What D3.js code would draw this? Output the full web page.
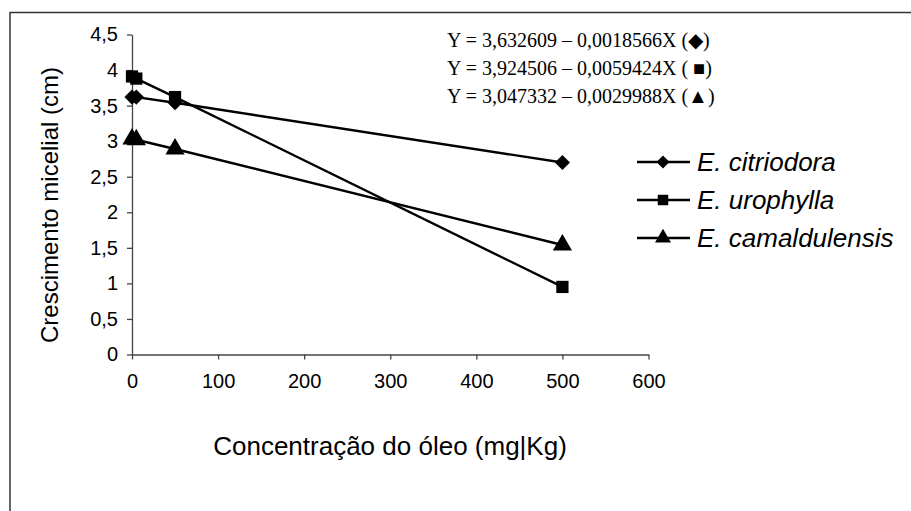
<!DOCTYPE html>
<html>
  <head>
    <meta charset="utf-8">
    <title>Crescimento micelial</title>
    <script src="https://cdn.jsdelivr.net/npm/d3@7"></script>
    <style>
      html, body { margin: 0; padding: 0; background: #fff; }
      svg text { font-family: "Liberation Sans", Arial, sans-serif; fill: #000; }
      .eq { font-family: "Liberation Serif", "Times New Roman", serif; }
    </style>
  </head>
  <body>
    <div id="chart"></div>
    <script>
      // concentrations (mg|Kg)
      var conc = [0, 5, 50, 500];
      var citriodora = [3.62, 3.62, 3.54, 2.70];
      var urophylla = [3.91, 3.88, 3.62, 0.95];
      var camaldulensis = [3.03, 3.02, 2.89, 1.54];
      var seriesNames = ["E. citriodora", "E. urophylla", "E. camaldulensis"];
      var equations = [
        "Y = 3,632609 \u2013 0,0018566X (\u25C6)",
        "Y = 3,924506 \u2013 0,0059424X ( \u25A0)",
        "Y = 3,047332 \u2013 0,0029988X (\u25B2)"
      ];
      var xTicks = [0, 100, 200, 300, 400, 500, 600];
      var yTicks = [0, 0.5, 1, 1.5, 2, 2.5, 3, 3.5, 4, 4.5];

      var w = 911, h = 511;
      var svg = d3.select("#chart").append("svg")
        .attr("width", w).attr("height", h);

      // outer frame (right/bottom run off the picture)
      svg.append("rect")
        .attr("x", 10).attr("y", 12.5)
        .attr("width", 920).attr("height", 520)
        .attr("fill", "none").attr("stroke", "#333").attr("stroke-width", 1.5);

      var x = d3.scaleLinear().domain([0, 600]).range([132, 648.5]);
      var y = d3.scaleLinear().domain([0, 4.5]).range([354.5, 34.5]);

      var fmt = function(d) { return String(d).replace(".", ","); };

      var yAxis = svg.append("g")
        .attr("transform", "translate(132,0)")
        .call(d3.axisLeft(y).tickValues(yTicks).tickFormat(fmt).tickSize(5).tickSizeOuter(0));
      yAxis.select(".domain").attr("stroke", "#444").attr("stroke-width", 1.3);
      yAxis.selectAll(".tick line").attr("stroke", "#444").attr("stroke-width", 1.3);
      yAxis.selectAll("text").attr("x", -14).style("font-size", "20px").attr("font-family", null);

      var xAxis = svg.append("g")
        .attr("transform", "translate(0,354.5)")
        .call(d3.axisBottom(x).tickValues(xTicks).tickSize(5).tickSizeOuter(0));
      xAxis.select(".domain").attr("stroke", "#444").attr("stroke-width", 1.3);
      xAxis.selectAll(".tick line").attr("stroke", "#444").attr("stroke-width", 1.3);
      xAxis.selectAll("text").attr("y", 19).style("font-size", "20px").attr("font-family", null);

      // axis titles
      svg.append("text")
        .attr("x", 390).attr("y", 455)
        .attr("text-anchor", "middle")
        .style("font-size", "26px")
        .text("Concentração do óleo (mg|Kg)");
      svg.append("text")
        .attr("transform", "translate(58,205) rotate(-90)")
        .attr("text-anchor", "middle")
        .style("font-size", "24px")
        .text("Crescimento micelial (cm)");

      var data = [citriodora, urophylla, camaldulensis];
      var shapes = [d3.symbolSquare, d3.symbolSquare, d3.symbolTriangle];
      var sizes = [115, 150, 160];
      var rot = [" rotate(45)", "", ""];

      var line = d3.line()
        .x(function(d, i) { return x(conc[i]); })
        .y(function(d) { return y(d); });

      data.forEach(function(vals, k) {
        svg.append("path")
          .datum(vals)
          .attr("d", line)
          .attr("fill", "none")
          .attr("stroke", "#000")
          .attr("stroke-width", 2.4);
      });

      data.forEach(function(vals, k) {
        svg.selectAll(".m" + k)
          .data(vals)
          .enter().append("path")
          .attr("class", "m" + k)
          .attr("transform", function(d, i) {
            return "translate(" + x(conc[i]) + "," + y(d) + ")" + rot[k];
          })
          .attr("d", d3.symbol().type(shapes[k]).size(sizes[k]))
          .attr("fill", "#000");
      });

      // legend
      var leg = svg.append("g");
      seriesNames.forEach(function(name, k) {
        var ly = 162 + k * 38;
        leg.append("line")
          .attr("x1", 637).attr("x2", 690)
          .attr("y1", ly).attr("y2", ly)
          .attr("stroke", "#000").attr("stroke-width", 2.4);
        leg.append("path")
          .attr("transform", "translate(663," + ly + ")" + rot[k])
          .attr("d", d3.symbol().type(shapes[k]).size(k === 0 ? 85 : 110))
          .attr("fill", "#000");
        leg.append("text")
          .attr("x", 697).attr("y", ly + 9)
          .style("font-size", "26px")
          .style("font-style", "italic")
          .text(name);
      });

      // regression equations
      equations.forEach(function(eq, k) {
        svg.append("text")
          .attr("class", "eq")
          .attr("x", 447).attr("y", 47 + k * 28)
          .style("font-size", "20px")
          .text(eq);
      });
    </script>
  </body>
</html>
